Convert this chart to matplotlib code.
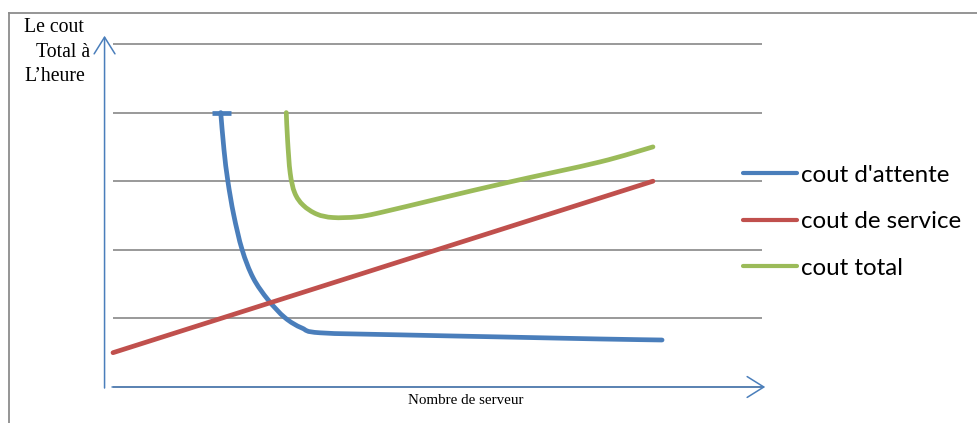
import matplotlib
matplotlib.use("Agg")
import numpy as np
import matplotlib.pyplot as plt
from matplotlib.lines import Line2D
from matplotlib.patches import ArrowStyle, PathPatch
from matplotlib.path import Path

# Series values (x: number of servers scale, y: hourly cost scale)
attente_cap_x = [1.52, 1.82]
attente_cap_y = [4.00, 4.00]
attente_x = [1.66, 1.71, 1.77, 1.86, 1.99, 2.16, 2.39, 2.65, 2.91, 3.19, 4.42, 5.96, 7.50, 8.46]
attente_y = [4.00, 3.46, 3.00, 2.51, 2.00, 1.59, 1.27, 1.01, 0.86, 0.79, 0.76, 0.73, 0.70, 0.685]

service_x = [0.0, 8.32]
service_y = [0.50, 3.00]

total_x = [2.67, 2.69, 2.73, 2.80, 2.93, 3.14, 3.39, 3.76, 4.11, 5.04, 6.12, 7.50, 8.32]
total_y = [4.00, 3.60, 3.12, 2.83, 2.65, 2.52, 2.47, 2.48, 2.54, 2.75, 2.99, 3.28, 3.50]

series_labels = ["cout d'attente", "cout de service", "cout total"]
series_colors = ["#4A7EBB", "#C0504D", "#9BBB59"]
grid_levels = [0, 1, 2, 3, 4, 5]

y_title = ["Le cout", "Total à", "L\u2019heure"]
x_title = "Nombre de serveur"


def smooth_path(xs, ys):
    """Smoothed line through the points (Catmull-Rom as cubic Beziers)."""
    p = np.column_stack([xs, ys]).astype(float)
    n = len(p)
    verts = [p[0]]
    codes = [Path.MOVETO]
    for i in range(n - 1):
        p0 = p[i - 1] if i > 0 else p[i]
        p1, p2 = p[i], p[i + 1]
        p3 = p[i + 2] if i + 2 < n else p[i + 1]
        c1 = p1 + (p2 - p0) / 6.0
        c2 = p2 - (p3 - p1) / 6.0
        verts += [c1, c2, p2]
        codes += [Path.CURVE4] * 3
    return Path(verts, codes)


W, H = 978, 423
fig = plt.figure(figsize=(W / 100, H / 100), dpi=100)
ax = fig.add_axes([0, 0, 1, 1])
ax.set_xlim(-1.741, 13.328)
ax.set_ylim(-0.5248, 5.641)
ax.axis("off")

# horizontal gridlines
ax.hlines(grid_levels, 0, 10.0, colors="#878787", linewidth=1.2, zorder=1)

axis_blue = "#4A7EBB"
head = ArrowStyle("->", head_length=12.0, head_width=7.5)
ax.annotate("", xy=(-0.13, 5.12), xytext=(-0.13, -0.015),
            arrowprops=dict(arrowstyle=head, color=axis_blue, lw=1.1,
                            shrinkA=0, shrinkB=0, mutation_scale=1))
ax.annotate("", xy=(10.05, 0.0), xytext=(-0.015, 0.0),
            arrowprops=dict(arrowstyle=head, color=axis_blue, lw=1.1,
                            shrinkA=0, shrinkB=0, mutation_scale=1))

lw = 3.4
ax.plot(attente_cap_x, attente_cap_y, color=series_colors[0], lw=lw,
        solid_capstyle="butt", zorder=3)
for xs, ys, c in [(attente_x, attente_y, series_colors[0]),
                  (service_x, service_y, series_colors[1]),
                  (total_x, total_y, series_colors[2])]:
    ax.add_patch(PathPatch(smooth_path(xs, ys), facecolor="none", edgecolor=c,
                           lw=lw, capstyle="round", joinstyle="round", zorder=3))

handles = [Line2D([], [], color=c, lw=3.0, solid_capstyle="round") for c in series_colors]
fig.legend(handles, series_labels, loc="upper left",
           bbox_to_anchor=(743 / W, 1 - 164.5 / H),
           frameon=False, prop={"family": "Lato", "size": 17.4},
           handlelength=2.24, handletextpad=0.17, labelspacing=1.06,
           borderpad=0, borderaxespad=0)

# outer frame
fig.add_artist(Line2D([8.5 / W, 8.5 / W], [0, 1 - 13 / H], color="#8C8C8C", lw=1.3,
                      transform=fig.transFigure))
fig.add_artist(Line2D([8.5 / W, 1], [1 - 13 / H, 1 - 13 / H], color="#8C8C8C", lw=1.3,
                      transform=fig.transFigure))

serif = "Liberation Serif"
fig.text(24 / W, 1 - 31.7 / H, y_title[0], family=serif, size=14.2, va="baseline")
fig.text(36 / W, 1 - 56.7 / H, y_title[1], family=serif, size=14.2, va="baseline")
fig.text(24 / W, 1 - 81 / H, y_title[2], family=serif, size=14.2, va="baseline")
fig.text(408 / W, 1 - 404 / H, x_title, family=serif, size=10.8, va="baseline")

fig.savefig("out.png", dpi=100)
